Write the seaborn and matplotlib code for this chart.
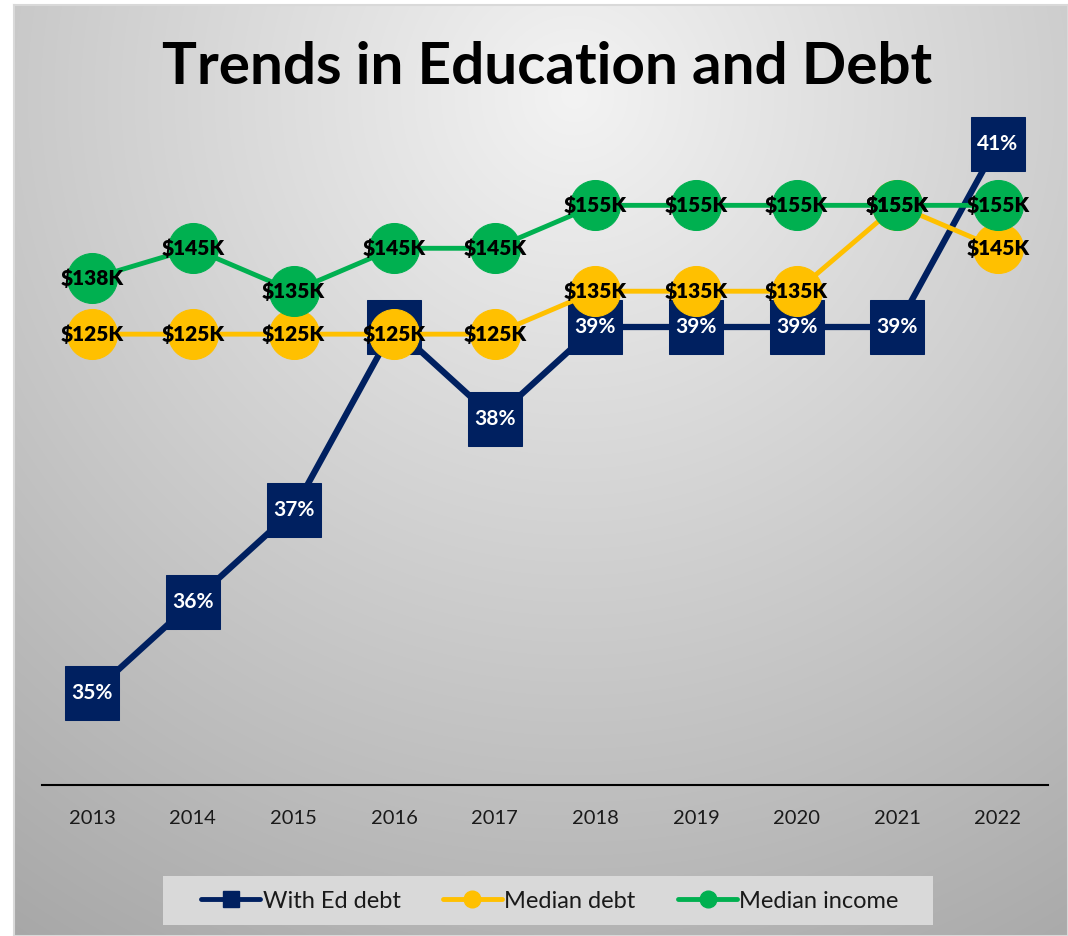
import numpy as np
import pandas as pd
import matplotlib
matplotlib.use("Agg")
import matplotlib.pyplot as plt
from matplotlib.lines import Line2D
from matplotlib.patches import Rectangle
import seaborn as sns

years = [2013, 2014, 2015, 2016, 2017, 2018, 2019, 2020, 2021, 2022]
ed_debt_pct = [35, 36, 37, 39, 38, 39, 39, 39, 39, 41]
median_debt_k = [125, 125, 125, 125, 125, 135, 135, 135, 155, 145]
median_income_k = [138, 145, 135, 145, 145, 155, 155, 155, 155, 155]

NAVY = "#002060"
YELLOW = "#FFC000"
GREEN = "#00B050"

sns.set_style("white")
plt.rcParams["font.family"] = ["Lato", "DejaVu Sans"]

df = pd.DataFrame({
    "pos": range(len(years)),
    "year": [str(y) for y in years],
    "ed": ed_debt_pct,
    "debt": median_debt_k,
    "income": median_income_k,
})

W, H = 1068, 936
fig = plt.figure(figsize=(W / 100, H / 100), dpi=100)
fig.patch.set_facecolor("white")

# background panel with a soft radial gray gradient
bg = fig.add_axes([14 / W, 0, 1 - 14 / W, 1 - 5 / H])
yy, xx = np.mgrid[0:931, 0:1054]
dist = np.sqrt((xx - 560) ** 2 + ((yy - 90) * 1.0) ** 2)
shade = np.clip(243 - 0.075 * dist, 160, 245) / 255.0
bg.imshow(np.dstack([shade] * 3), aspect="auto", extent=[0, 1, 0, 1], origin="upper")
bg.set_xticks([])
bg.set_yticks([])
for s in bg.spines.values():
    s.set_color("#d9d9d9")
    s.set_linewidth(1.5)

# main plot area
ax = fig.add_axes([42 / W, 1 - 785 / H, (1048 - 42) / W, (785 - 98) / H])
ax2 = ax.twinx()
ax.set_zorder(ax2.get_zorder() + 1)
ax.patch.set_visible(False)
ax2.patch.set_visible(False)

# percent series (behind)
sns.lineplot(data=df, x="pos", y="ed", ax=ax2, color=NAVY, linewidth=4.5,
             marker="s", markersize=39, markeredgecolor=NAVY, legend=False)
for p, v in zip(df["pos"], df["ed"]):
    ax2.text(p, v, f"{v}%", ha="center", va="center", color="white",
             fontsize=15, fontweight="bold")
ax2.set_ylim(34, 41.5)

# dollar series
sns.lineplot(data=df, x="pos", y="debt", ax=ax, color=YELLOW, linewidth=3.5,
             marker="o", markersize=36, markeredgecolor=YELLOW, legend=False)
sns.lineplot(data=df, x="pos", y="income", ax=ax, color=GREEN, linewidth=3.5,
             marker="o", markersize=36, markeredgecolor=GREEN, legend=False)
for p, v in zip(df["pos"], df["debt"]):
    ax.text(p, v, f"${v}K", ha="center", va="center", color="black",
            fontsize=15, fontweight="heavy", zorder=5)
for p, v in zip(df["pos"], df["income"]):
    ax.text(p, v, f"${v}K", ha="center", va="center", color="black",
            fontsize=15, fontweight="heavy", zorder=6)
ax.set_ylim(20, 180)
ax.set_xlim(-0.5, 9.5)

ax.set_xticks(df["pos"])
ax.set_xticklabels(df["year"], fontsize=14.5, color="#1a1a1a")
ax.tick_params(axis="x", length=0, pad=18)
ax.set_yticks([])
ax2.set_yticks([])
ax.set_xlabel("")
ax.set_ylabel("")
ax2.set_ylabel("")
for a in (ax, ax2):
    for name, s in a.spines.items():
        s.set_visible(False)
ax.spines["bottom"].set_visible(True)
ax.spines["bottom"].set_color("black")
ax.spines["bottom"].set_linewidth(1.5)

fig.text(547 / W, 1 - 67 / H, "Trends in Education and Debt", ha="center",
         va="center", fontsize=42, fontweight="bold", color="black")

# legend box
fig.patches.append(Rectangle((163 / W, 1 - 925 / H), (933 - 163) / W, 49 / H,
                             transform=fig.transFigure, facecolor="#d9d9d9",
                             edgecolor="none", zorder=1))
handles = [
    Line2D([], [], color=NAVY, linewidth=3.5, marker="s", markersize=12),
    Line2D([], [], color=YELLOW, linewidth=3.5, marker="o", markersize=12),
    Line2D([], [], color=GREEN, linewidth=3.5, marker="o", markersize=12),
]
leg = fig.legend(handles, ["With Ed debt", "Median debt", "Median income"],
                 loc="center", bbox_to_anchor=(550 / W, 1 - 901 / H), ncol=3,
                 fontsize=17, frameon=False, handlelength=2.5,
                 handletextpad=0.1, columnspacing=1.8)
for t in leg.get_texts():
    t.set_color("#1a1a1a")

fig.savefig("out.png", dpi=100)
